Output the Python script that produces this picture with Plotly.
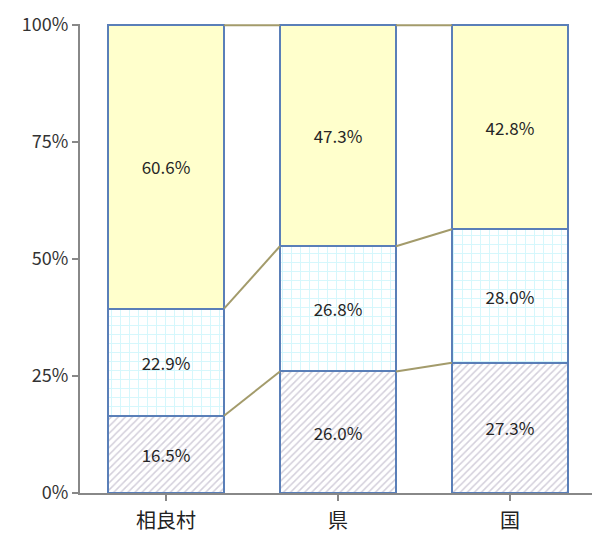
import plotly.graph_objects as go

categories = ["相良村", "県", "国"]
bottom_vals = [16.5, 26.0, 27.3]
middle_vals = [22.9, 26.8, 28.0]
top_vals = [60.6, 47.3, 42.8]
y_ticks = [0, 25, 50, 75, 100]
y_tick_labels = ["0%", "25%", "50%", "75%", "100%"]

BAR_W = 0.675
FONT = "Noto Sans CJK JP"
OUTLINE = "#5A7FB8"
CONNECT = "#A39B6B"

# 100% stacked: normalise each category to its total
totals = [b + m + t for b, m, t in zip(bottom_vals, middle_vals, top_vals)]

def norm(vals):
    return [v / s * 100 for v, s in zip(vals, totals)]

fig = go.Figure()
series = [
    (bottom_vals, dict(shape="/", fgcolor="#A8A0B8", bgcolor="#FFFFFF", size=5, solidity=0.3)),
    (middle_vals, dict(shape="+", fgcolor="#A8EEF8", bgcolor="#FFFFFF", size=9, solidity=0.2)),
    (top_vals, None),
]
xs = list(range(len(categories)))

# connector lines between cumulative tops (drawn beneath bars)
cum = [0, 0, 0]
for vals, _ in series:
    cum = [c + v for c, v in zip(cum, norm(vals))]
    for i in range(len(categories) - 1):
        fig.add_trace(go.Scatter(
            x=[i + BAR_W / 2, i + 1 - BAR_W / 2], y=[cum[i], cum[i + 1]],
            mode="lines", line=dict(color=CONNECT, width=2),
            hoverinfo="skip", showlegend=False,
        ))

for vals, pat in series:
    marker = dict(line=dict(color=OUTLINE, width=2))
    if pat:
        marker["color"] = "#FFFFFF"
        marker["pattern"] = pat
    else:
        marker["color"] = "#FFFFCC"
    fig.add_trace(go.Bar(
        x=xs, y=norm(vals), width=BAR_W, marker=marker,
        text=[f"{v:.1f}%" for v in vals], textposition="inside",
        insidetextanchor="middle", textangle=0,
        textfont=dict(family=FONT, size=17, color="#262626"),
        hoverinfo="skip", showlegend=False,
    ))

fig.update_layout(
    barmode="stack",
    width=592, height=533,
    margin=dict(l=80, r=0, t=24, b=40, autoexpand=False),
    paper_bgcolor="white", plot_bgcolor="white",
    font=dict(family=FONT, color="#333333"),
    uniformtext=dict(mode=False),
)
fig.update_xaxes(
    range=[-0.5, 2.477], tickvals=xs, ticktext=categories,
    tickfont=dict(family=FONT, size=20, color="#222222"),
    showline=True, linecolor="#888888", linewidth=2,
    ticks="outside", tickson="boundaries", ticklen=6, tickcolor="#888888", tickwidth=2,
    ticklabelstandoff=3, automargin=False,
    showgrid=False, zeroline=False,
)
fig.update_yaxes(
    range=[0, 100.25], tickvals=y_ticks, ticktext=y_tick_labels,
    tickfont=dict(family=FONT, size=18, color="#333333"),
    showline=True, linecolor="#888888", linewidth=2,
    ticks="outside", ticklen=6, tickcolor="#888888", tickwidth=2,
    automargin=False,
    showgrid=False, zeroline=False,
)
fig.write_html("out.html")
